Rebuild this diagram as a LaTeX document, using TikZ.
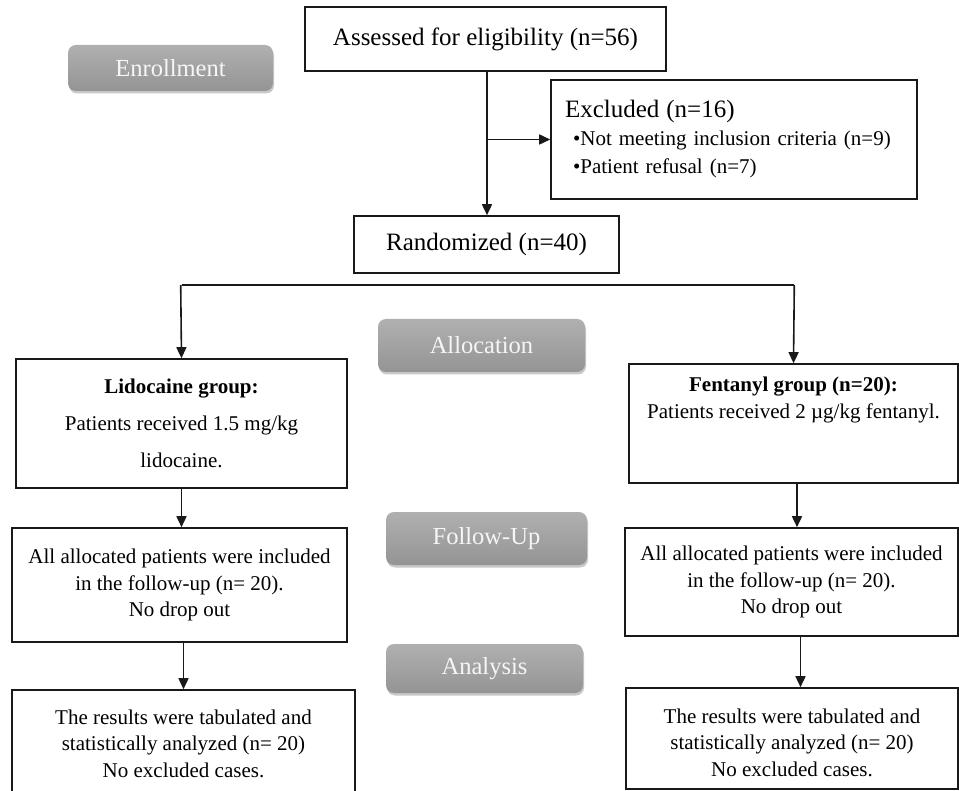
\documentclass[tikz,border=0pt]{standalone}
\usepackage{fontspec}
\setmainfont{Liberation Serif}
\usetikzlibrary{arrows.meta,shadows}
\definecolor{labtop}{RGB}{176,176,176}
\definecolor{labbot}{RGB}{148,148,148}
\definecolor{labtxt}{RGB}{246,246,246}
\definecolor{edge}{RGB}{25,25,25}
\tikzset{
  box/.style={draw=edge, line width=1.6pt, rectangle, inner sep=0pt, align=center},
  arr/.style={draw=edge, line width=1.6pt, -{Triangle[length=11pt,width=10pt]}},
  plain/.style={draw=edge, line width=1.6pt},
  phase/.style={rounded corners=8pt, top color=labtop, bottom color=labbot, draw=none,
    text=labtxt, inner sep=0pt, font=\fontsize{24.5}{28}\selectfont,
    drop shadow={shadow xshift=1pt, shadow yshift=-2.5pt, opacity=0.3, fill=black!70}},
  big/.style={font=\fontsize{25}{30}\selectfont},
  body/.style={font=\fontsize{21}{26.5}\selectfont},
  txt/.style={inner sep=0pt, align=center},
}
\begin{document}
\begin{tikzpicture}[x=1pt,y=-1pt]
\clip (0,0) rectangle (959,791);
\fill[white] (0,0) rectangle (959,791);

% phase labels
\node[phase, minimum width=205, minimum height=46] (enroll) at (170.5,68) {Enrollment};
\node[phase, minimum width=207, minimum height=53] (alloc) at (481.5,345.5) {Allocation};
\node[phase, minimum width=201, minimum height=53] (follow) at (486.5,538.5) {Follow-Up};
\node[phase, minimum width=197, minimum height=49] (analysis) at (484.5,668.5) {Analysis};

% boxes
\node[box, big, minimum width=361, minimum height=64] (assess) at (485.5,39) {Assessed for eligibility (n=56)};
\node[box, minimum width=366, minimum height=119, text width=338, align=left,
      font=\fontsize{21}{28}\selectfont] (excl) at (734,139.5)
  {{\fontsize{25}{28}\selectfont Excluded (n=16)}\\
   \hspace*{8pt}•Not meeting inclusion criteria (n=9)\\
   \hspace*{8pt}•Patient refusal (n=7)};
\node[box, big, minimum width=265, minimum height=57] (rand) at (486.5,244.5) {Randomized (n=40)};

\node[box, minimum width=331, minimum height=129, font=\fontsize{21}{37}\selectfont] (lido) at (181.5,423.5)
  {\textbf{Lidocaine group:}\\ Patients received 1.5 mg/kg\\ lidocaine.};
\node[box, minimum width=329, minimum height=119] (fent) at (793.5,423.5) {};
\node[txt, body, anchor=north] (fenttxt) at (793.5,377)
  {\textbf{Fentanyl group (n=20):}\\ Patients received 2 µg/kg fentanyl.};

\node[box, body, minimum width=335, minimum height=114] (ful) at (179.5,585)
  {All allocated patients were included\\ in the follow-up (n= 20).\\ No drop out};
\node[box, body, minimum width=333, minimum height=108] (fur) at (791.5,582)
  {All allocated patients were included\\ in the follow-up (n= 20).\\ No drop out};

\node[box, minimum width=343, minimum height=106] (anl) at (183.5,743) {};
\node[txt, body, anchor=north] (anltxt) at (183.5,709.5)
  {The results were tabulated and\\ statistically analyzed (n= 20)\\ No excluded cases.};
\node[box, minimum width=332, minimum height=101] (anr) at (792,738.5) {};
\node[txt, body, anchor=north] (anrtxt) at (792,708.5)
  {The results were tabulated and\\ statistically analyzed (n= 20)\\ No excluded cases.};

% connectors
\coordinate (trunk) at ([xshift=1.5pt]assess.south);
\draw[arr] (trunk) -- (trunk |- rand.north);
\draw[arr] (trunk |- excl.west) -- (excl.west);

\coordinate (brl) at (lido.north |- 0,285);
\coordinate (brr) at (fent.north |- 0,285);
\draw[plain] (brl) -- (brr);
\draw[arr] ([xshift=-0.8pt]brl) -- (lido.north);
\draw[arr] ([xshift=0.8pt]brr) -- (fent.north);
\draw[arr] (lido.south) -- (lido.south |- ful.north);
\draw[arr] (anl.north |- ful.south) -- (anl.north);
\draw[arr] ([xshift=3.5pt]fent.south) -- ([xshift=3.5pt]fent.south |- fur.north);
\draw[arr] ([xshift=9pt]fur.south) -- ([xshift=9pt]fur.south |- anr.north);
\end{tikzpicture}
\end{document}
